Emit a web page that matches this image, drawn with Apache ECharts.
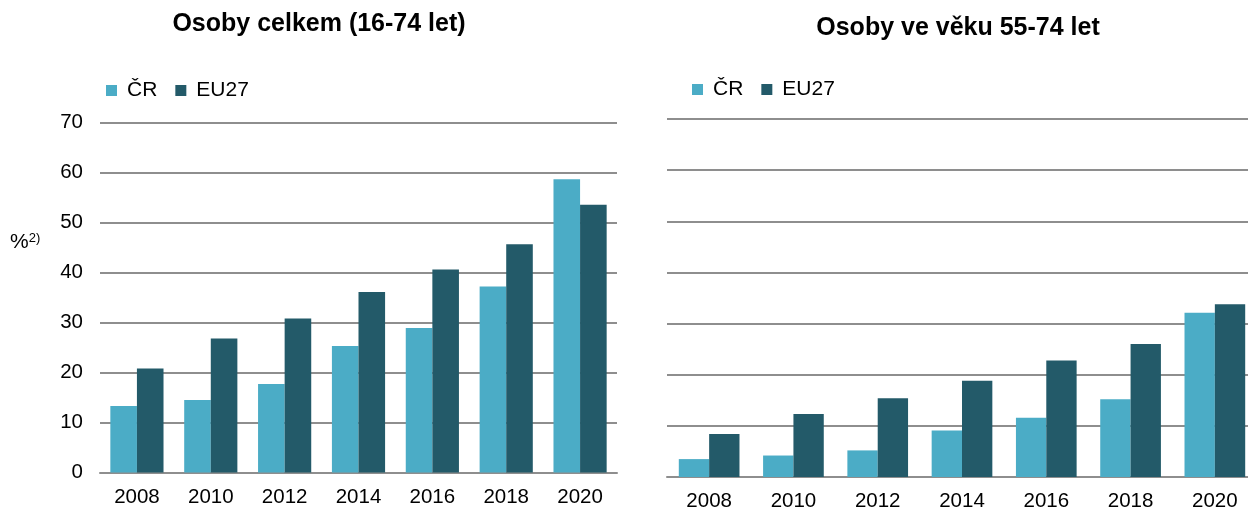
<!DOCTYPE html>
<html>
<head>
<meta charset="utf-8">
<script src="https://cdn.jsdelivr.net/npm/echarts@6/dist/echarts.min.js"></script>
<style>
  html, body { margin: 0; padding: 0; background: #fff; overflow: hidden; }
  #chart { width: 1260px; height: 512px; }
</style>
</head>
<body>
<div id="chart"></div>
<script>
const years = ["2008", "2010", "2012", "2014", "2016", "2018", "2020"];
const crTotal = [13.3, 14.5, 17.7, 25.3, 28.9, 37.2, 58.7];
const euTotal = [20.8, 26.8, 30.8, 36.1, 40.6, 45.7, 53.6];
const crOlder = [3.5, 4.2, 5.2, 9.1, 11.6, 15.2, 32.1];
const euOlder = [8.4, 12.3, 15.4, 18.8, 22.8, 26.0, 33.8];

const colorCR = "#4BACC6";
const colorEU = "#235A69";
const gridColor = "#8E8E8E";
const font = "Liberation Sans, Arial, sans-serif";

// the right panel is cut off by the page edge, so the canvas is a little wider than the window
const myChart = echarts.init(document.getElementById("chart"));

const makeX = (gridIndex) => ({
  type: "category",
  gridIndex: gridIndex,
  data: years,
  axisLine: { lineStyle: { color: gridColor, width: 2 } },
  axisTick: { show: false },
  axisLabel: { fontSize: 20.5, color: "#000", fontFamily: font, margin: 14 },
});

const makeY = (gridIndex, showLabels) => ({
  type: "value",
  gridIndex: gridIndex,
  min: 0,
  max: 70,
  interval: 10,
  axisLine: { show: false },
  axisTick: { show: false },
  axisLabel: { show: showLabels, fontSize: 20.5, color: "#000", fontFamily: font, margin: 17 },
  splitLine: { lineStyle: { color: gridColor, width: 2 } },
});

const makeBar = (name, data, color, idx) => ({
  name: name,
  type: "bar",
  xAxisIndex: idx,
  yAxisIndex: idx,
  data: data,
  barGap: 0,
  barCategoryGap: "28%",
  itemStyle: { color: color },
});

const legendBase = {
  data: ["ČR", "EU27"],
  icon: "rect",
  itemWidth: 11,
  itemHeight: 11,
  itemGap: 18,
  padding: 0,
  textStyle: { fontSize: 21, color: "#000", fontFamily: font, padding: [0, 0, 0, 5] },
};

const option = {
  animation: false,
  color: [colorCR, colorEU],
  title: [
    {
      text: "Osoby celkem (16-74 let)",
      left: 319,
      top: 12,
      padding: 0,
      textAlign: "center",
      textStyle: { fontSize: 25, fontWeight: "bold", color: "#000", fontFamily: font },
    },
    {
      text: "Osoby ve věku 55-74 let",
      left: 958,
      top: 16,
      padding: 0,
      textAlign: "center",
      textStyle: { fontSize: 25, fontWeight: "bold", color: "#000", fontFamily: font },
    },
    {
      text: "{a|%}{s|2)}",
      left: 10,
      top: 232,
      padding: 0,
      textStyle: {
        fontWeight: "normal",
        rich: {
          a: { fontSize: 21, fontWeight: "normal", color: "#000", fontFamily: font, verticalAlign: "bottom" },
          s: { fontSize: 13, fontWeight: "normal", color: "#000", fontFamily: font, verticalAlign: "top", padding: [0, 0, 8, 0] },
        },
      },
    },
  ],
  legend: [
    Object.assign({ left: 106, top: 80 }, legendBase),
    Object.assign({ left: 692, top: 79 }, legendBase),
  ],
  grid: [
    { left: 100, right: 643, top: 122.7, bottom: 39.5 },
    { left: 667, right: 3, top: 119, bottom: 34.7 },
  ],
  xAxis: [makeX(0), makeX(1)],
  yAxis: [makeY(0, true), makeY(1, false)],
  series: [
    makeBar("ČR", crTotal, colorCR, 0),
    makeBar("EU27", euTotal, colorEU, 0),
    makeBar("ČR", crOlder, colorCR, 1),
    makeBar("EU27", euOlder, colorEU, 1),
  ],
};

myChart.setOption(option);
</script>
</body>
</html>
